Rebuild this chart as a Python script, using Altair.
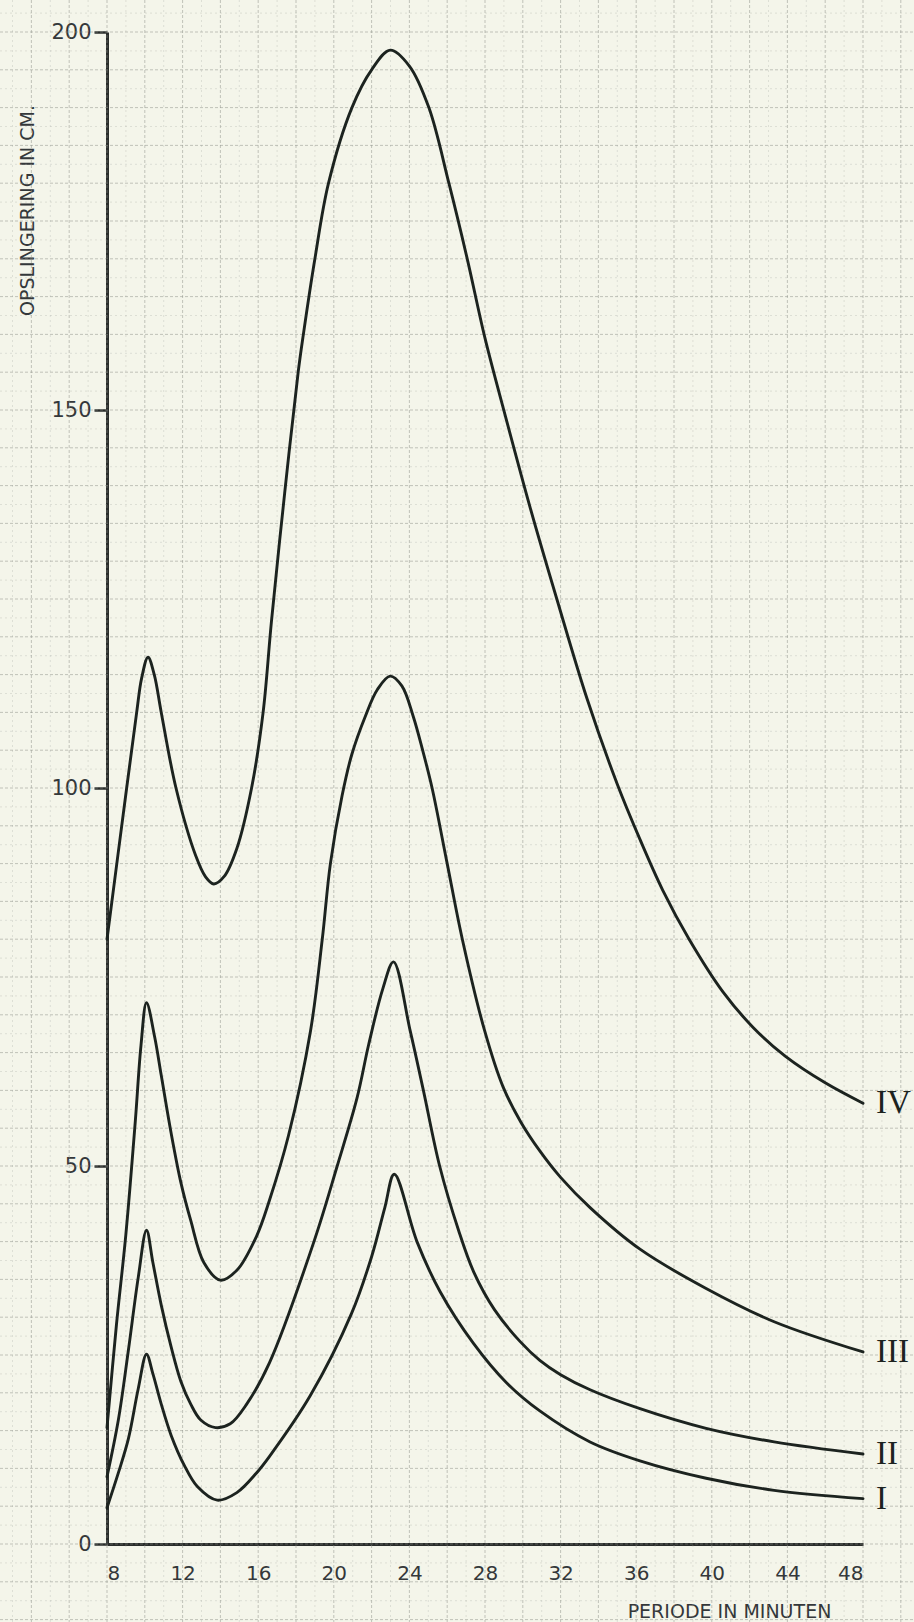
import altair as alt
import pandas as pd

# ---- data (x = periode in minuten, y = opslingering in cm) ----
x_I = [8, 8.6, 9.13, 9.65, 10.09, 10.43, 10.87, 11.39, 12.09, 12.78, 13.83, 14.87, 15.91, 16.6,
       18.75, 20.94, 22.0, 22.7, 23.2, 24.4, 25.62, 27.4, 29.15, 30.9, 33.56, 36.2, 39.7, 43.3, 48]
y_I = [4.8, 9.4, 13.9, 20.5, 25.1, 22.5, 18.5, 14.4, 10.4, 7.6, 5.8, 6.8, 9.4, 11.6,
       19.6, 30.5, 38.0, 44.5, 48.9, 40.0, 33.4, 26.5, 21.3, 17.6, 13.5, 11.0, 8.7, 7.1, 6.0]

x_II = [8, 8.6, 9.13, 9.65, 10.09, 10.43, 10.87, 11.39, 11.91, 12.43, 12.96, 13.74, 14.52, 15.39, 16.6,
        18.95, 20.18, 21.23, 21.84, 22.6, 23.16, 24.04, 24.74, 25.6, 26.6, 27.4, 28.5, 29.85, 30.9, 32.0,
        33.56, 36.2, 39.7, 43.3, 48]
y_II = [8.9, 16.4, 25.6, 35.2, 41.5, 37.2, 31.6, 26.1, 21.5, 18.5, 16.4, 15.4, 15.9, 18.5, 24.0,
        40.0, 50.0, 59.0, 66.0, 73.5, 77.0, 67.9, 60.0, 50.0, 41.5, 36.0, 31.0, 26.8, 24.3, 22.4,
        20.4, 17.9, 15.3, 13.5, 11.9]

x_III = [8, 8.5, 9.0, 9.5, 9.8, 10.09, 10.52, 10.87, 11.39, 11.91, 12.43, 13.13, 14.0, 14.87, 15.91, 16.6,
         17.6, 18.77, 19.39, 19.82, 20.44, 20.96, 21.67, 22.3, 22.98, 23.6, 24.2, 24.7, 25.2, 26.0, 26.8,
         27.98, 28.95, 29.9, 30.9, 32.0, 33.56, 36.2, 39.7, 43.3, 48]
y_III = [15.4, 29.0, 41.0, 56.0, 66.0, 71.6, 67.1, 62.0, 54.4, 47.8, 42.8, 37.2, 34.9, 36.2, 40.7, 45.5,
         54.0, 67.9, 80.0, 90.0, 99.0, 104.5, 109.5, 113.0, 114.8, 113.5, 109.5, 105.0, 100.0, 90.0, 80.0,
         67.9, 60.5, 55.8, 52.0, 48.5, 44.5, 39.0, 33.8, 29.4, 25.4]

x_IV = [8, 9.04, 9.57, 9.83, 10.17, 10.5, 10.87, 11.65, 12.7, 13.2, 13.65, 14.2, 14.87, 15.65, 16.26, 16.7,
        17.4, 18.12, 18.39, 19.0, 19.72, 20.96, 22.0, 22.99, 24.0, 25.03, 26.09, 27.06, 28.0, 29.1,
        30.4, 31.8, 33.4, 35.0, 36.2, 37.4, 38.8, 40.6, 42.2, 43.9, 46.0, 48]
y_IV = [80.0, 100.0, 110.0, 114.5, 117.3, 115.0, 110.0, 100.0, 91.0, 88.3, 87.3, 88.3, 92.0, 100.0, 110.0, 122.0,
        139.0, 155.1, 160.0, 170.0, 180.0, 190.0, 195.0, 197.6, 195.5, 190.0, 180.0, 170.0, 159.5, 149.0,
        137.0, 125.0, 111.8, 100.5, 93.2, 86.5, 80.0, 73.0, 68.3, 64.5, 61.0, 58.3]

curve_names = ["I", "II", "III", "IV"]
curve_x = [x_I, x_II, x_III, x_IV]
curve_y = [y_I, y_II, y_III, y_IV]

x_ticks = [8, 12, 16, 20, 24, 28, 32, 36, 40, 44, 48]
y_ticks = [0, 50, 100, 150, 200]

# graph-paper grid lines (extend over the whole sheet)
grid_x_major = [v for v in range(2, 52, 2)]
grid_x_minor = [v for v in range(3, 52, 2)]
grid_y_major = [v for v in range(-10, 206, 5)]
grid_y_minor = [v + 2.5 for v in range(-10, 206, 5)]

# ---- tables ----
rows = []
for name, xs, ys in zip(curve_names, curve_x, curve_y):
    for a, b in zip(xs, ys):
        rows.append({"curve": name, "periode": a, "opslingering": b})
df = pd.DataFrame(rows)

labels_df = pd.DataFrame({
    "curve": curve_names,
    "periode": [xs[-1] for xs in curve_x],
    "opslingering": [ys[-1] for ys in curve_y],
})

W, H = 756, 1512
PAD = {"left": 107, "top": 32, "right": 51, "bottom": 78}

x_scale = alt.Scale(domain=[8, 48], nice=False, zero=False)
y_scale = alt.Scale(domain=[0, 200], nice=False, zero=False)

INK = "#1c231f"
TXT = "#34383a"
FONT = "DejaVu Sans"

x_axis = alt.Axis(values=x_ticks, title="PERIODE IN MINUTEN", grid=False, ticks=False,
                  domainColor="#2a2d2b", domainWidth=3, labelFont=FONT, labelFontSize=20,
                  labelColor=TXT, labelPadding=19, titleFont=FONT, titleFontSize=19,
                  titleFontWeight="normal", titleColor=TXT, titleX=622, titleY=67,
                  titleAlign="center", titleBaseline="middle")
y_axis = alt.Axis(values=y_ticks, title="OPSLINGERING IN CM.", grid=False, ticks=True,
                  tickSize=13, tickWidth=2.5, tickColor="#2a2d2b",
                  domainColor="#2a2d2b", domainWidth=3, labelFont=FONT, labelFontSize=21,
                  labelColor=TXT, labelPadding=3, titleFont=FONT, titleFontSize=19,
                  titleFontWeight="normal", titleColor=TXT, titleAngle=270, titleX=-80,
                  titleY=178, titleAlign="center", titleBaseline="middle")

gx_major = alt.Chart(pd.DataFrame({"periode": grid_x_major})).mark_rule(
    color="#8e918a", strokeWidth=1, opacity=0.5, strokeDash=[3, 2]).encode(
    x=alt.X("periode:Q", scale=x_scale, axis=x_axis), y=alt.value(-32), y2=alt.value(H + 78))
gx_minor = alt.Chart(pd.DataFrame({"periode": grid_x_minor})).mark_rule(
    color="#a9aca4", strokeWidth=1, opacity=0.3, strokeDash=[2, 3]).encode(
    x=alt.X("periode:Q", scale=x_scale, axis=x_axis), y=alt.value(-32), y2=alt.value(H + 78))
gy_major = alt.Chart(pd.DataFrame({"opslingering": grid_y_major})).mark_rule(
    color="#8e918a", strokeWidth=1, opacity=0.5, strokeDash=[3, 2]).encode(
    y=alt.Y("opslingering:Q", scale=y_scale, axis=y_axis), x=alt.value(-107), x2=alt.value(W + 51))
gy_minor = alt.Chart(pd.DataFrame({"opslingering": grid_y_minor})).mark_rule(
    color="#a9aca4", strokeWidth=1, opacity=0.3, strokeDash=[2, 3]).encode(
    y=alt.Y("opslingering:Q", scale=y_scale, axis=y_axis), x=alt.value(-107), x2=alt.value(W + 51))

lines = alt.Chart(df).mark_line(interpolate="catmull-rom", color=INK, strokeWidth=2.9,
                                strokeCap="round", strokeJoin="round").encode(
    x=alt.X("periode:Q", scale=x_scale, axis=x_axis),
    y=alt.Y("opslingering:Q", scale=y_scale, axis=y_axis),
    detail="curve:N",
    order="periode:Q",
)

labels = alt.Chart(labels_df).mark_text(font="Liberation Serif", fontSize=33, color=INK,
                                         align="left", baseline="middle", dx=13).encode(
    x=alt.X("periode:Q", scale=x_scale, axis=x_axis),
    y=alt.Y("opslingering:Q", scale=y_scale, axis=y_axis),
    text="curve:N",
)

chart = alt.layer(gx_minor, gy_minor, gx_major, gy_major, lines, labels).properties(
    width=W, height=H, padding=PAD, autosize=alt.AutoSizeParams(type="none"),
    background="#f4f5ea",
).configure_view(stroke=None)

chart.save("out.html", embed_options={"renderer": "svg", "actions": False})
